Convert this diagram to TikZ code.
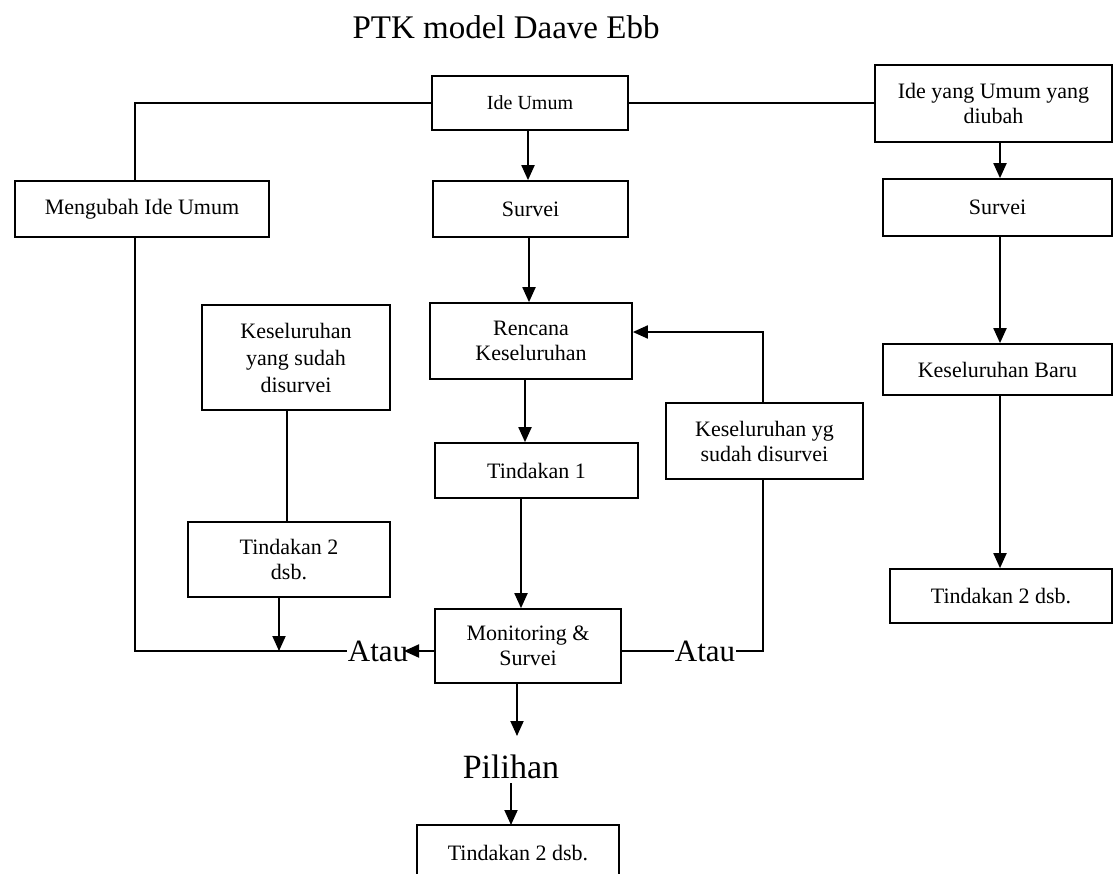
\documentclass[tikz,border=0pt]{standalone}
\usepackage{fontspec}
\setmainfont{Liberation Serif}
\usetikzlibrary{arrows.meta}
\tikzset{
  box/.style={draw, line width=1.7pt, inner sep=0pt, align=center,
    font=\fontsize{22}{25}\selectfont},
  conn/.style={line width=1.9pt},
  arr/.style={line width=1.9pt, -{Triangle[length=15pt,width=13pt]}},
  bigtext/.style={inner sep=1pt, font=\fontsize{31}{33}\selectfont},
}
\begin{document}
\begin{tikzpicture}[x=1pt,y=-1pt]
\useasboundingbox (0,0) rectangle (1113,873);
\clip (0,0) rectangle (1113,873);
\node[font=\fontsize{33}{36}\selectfont, inner sep=0pt] (title) at (506,27) {PTK model Daave Ebb};
% boxes
\node[box, minimum width=196pt, minimum height=54pt, font=\fontsize{20}{23}\selectfont] (ideumum) at (530,103) {Ide Umum};
\node[box, minimum width=237pt, minimum height=77pt] (ideyang) at (993.5,103.5) {Ide yang Umum yang\\diubah};
\node[box, minimum width=254pt, minimum height=56pt] (mengubah) at (142,209) {Mengubah Ide Umum};
\node[box, minimum width=195pt, minimum height=56pt] (survei1) at (530.5,209) {Survei};
\node[box, minimum width=229pt, minimum height=57pt] (survei2) at (997.5,207.5) {Survei};
\node[box, minimum width=188pt, minimum height=105pt, font=\fontsize{22}{27}\selectfont] (kesleft) at (296,357.5) {Keseluruhan\\yang sudah\\disurvei};
\node[box, minimum width=202pt, minimum height=76pt] (rencana) at (531,341) {Rencana\\Keseluruhan};
\node[box, minimum width=229pt, minimum height=51pt] (kesbaru) at (997.5,369.5) {Keseluruhan Baru};
\node[box, minimum width=197pt, minimum height=76pt] (kesyg) at (764.5,441) {Keseluruhan yg\\sudah disurvei};
\node[box, minimum width=203pt, minimum height=55pt] (tindakan1) at (536.5,470.5) {Tindakan 1};
\node[box, minimum width=202pt, minimum height=75pt] (tindakan2L) at (289,559.5) {Tindakan 2\\dsb.};
\node[box, minimum width=222pt, minimum height=54pt] (tindakan2R) at (1001,596) {Tindakan 2 dsb.};
\node[box, minimum width=186pt, minimum height=74pt] (monitoring) at (528,646) {Monitoring \&\\Survei};
\node[box, minimum width=202pt, minimum height=56pt] (tindakan2B) at (518,853) {Tindakan 2 dsb.};
% labels
\node[bigtext] (atau1) at (378,651) {Atau};
\node[bigtext] (atau2) at (705,651) {Atau};
\node[bigtext, font=\fontsize{34}{36}\selectfont] (pilihan) at (511,767) {Pilihan};
% helper coordinates
\coordinate (L1) at (135,103);
\coordinate (L2) at (135,651);
\coordinate (R1) at (763,332);
\coordinate (R2) at (763,651);
\coordinate (xa) at (528,0);
\coordinate (xb) at (529,0);
\coordinate (xc) at (525,0);
\coordinate (xd) at (521,0);
\coordinate (xr) at (1000,0);
\coordinate (xl) at (287,0);
\coordinate (xt) at (279,0);
\coordinate (tipL) at (404,651);
\coordinate (pA) at (517,683);
\coordinate (pB) at (517,736);
\coordinate (pC) at (511,783);
\coordinate (pD) at (511,825);
% connectors
\draw[conn] (ideumum.west) -- (L1) -- (L1 |- mengubah.north);
\draw[conn] (L1 |- mengubah.south) -- (L2) -- (atau1.west);
\draw[conn] (ideumum.east) -- (ideumum.east -| ideyang.west);
\draw[arr] (ideumum.south -| xa) -- (survei1.north -| xa);
\draw[arr] (survei1.south -| xb) -- (rencana.north -| xb);
\draw[arr] (rencana.south -| xc) -- (tindakan1.north -| xc);
\draw[arr] (tindakan1.south -| xd) -- (monitoring.north -| xd);
\draw[arr] (pA) -- (pB);
\draw[arr] (pC) -- (pD);
\draw[arr] (ideyang.south -| xr) -- (survei2.north -| xr);
\draw[arr] (survei2.south -| xr) -- (kesbaru.north -| xr);
\draw[arr] (kesbaru.south -| xr) -- (tindakan2R.north -| xr);
\draw[conn] (kesleft.south -| xl) -- (tindakan2L.north -| xl);
\draw[arr] (tindakan2L.south -| xt) -- (xt |- L2);
\draw[arr] (monitoring.west |- L2) -- (tipL);
\draw[conn] (monitoring.east |- R2) -- (atau2.west);
\draw[conn] (atau2.east) -- (R2) -- (R2 |- kesyg.south);
\draw[arr] (R1 |- kesyg.north) -- (R1) -- (R1 -| rencana.east);
\end{tikzpicture}
\end{document}
